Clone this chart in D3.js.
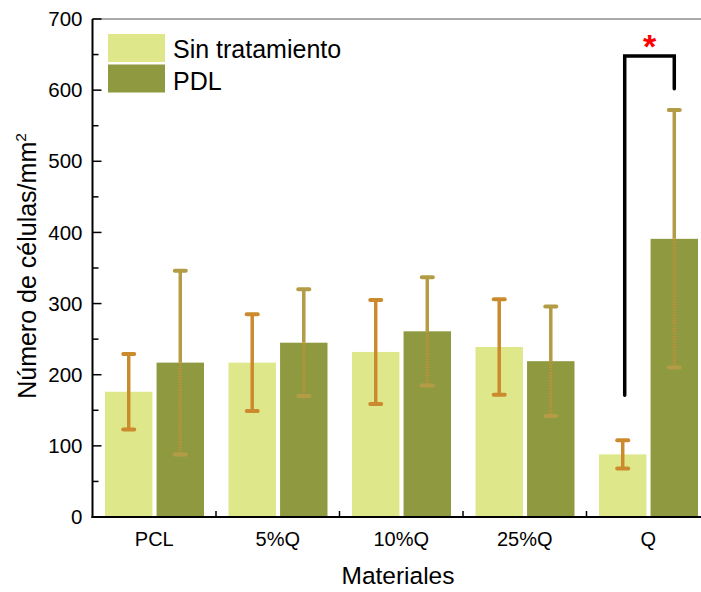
<!DOCTYPE html>
<html>
<head>
<meta charset="utf-8">
<script src="https://cdn.jsdelivr.net/npm/d3@7"></script>
<style>
  html, body { margin: 0; padding: 0; background: #fff; }
  svg { display: block; font-family: "Liberation Sans", Arial, sans-serif; }
</style>
</head>
<body>
<svg id="chart" width="701" height="592"></svg>
<script>
// Cell counts per material, with and without PDL treatment
const categories = ["PCL", "5%Q", "10%Q", "25%Q", "Q"];
const seriesNames = ["Sin tratamiento", "PDL"];
const sinTratamiento = [176, 217, 232, 239, 88];
const sinTratamientoSD = [53, 68, 73, 67, 20];
const pdl = [217, 245, 261, 219, 391];
const pdlSD = [129, 75, 76, 77, 181];
const yTicks = [0, 100, 200, 300, 400, 500, 600, 700];
const yMinorTicks = [50, 150, 250, 350, 450, 550, 650];
// significance bracket on Q: [left leg bottom, top, right leg bottom]
const sigCategory = "Q";
const sigLevels = [171, 648, 602];

const fills = ["#dfe78b", "#8f9a40"];
const errColors = ["#cc8a2e", "#b39c45"];

const svg = d3.select("#chart");
const plotLeft = 92.5, plotTop = 19, plotBottom = 517, plotRight = 710;

const x = d3.scaleBand().domain(categories).range([plotLeft, plotRight]).paddingInner(0).paddingOuter(0);
const xs = d3.scaleBand().domain(seriesNames).range([12.5, 111.5]).paddingInner(0.08);
const y = d3.scaleLinear().domain([0, 700]).range([plotBottom, plotTop]);

const series = [
  { name: seriesNames[0], values: sinTratamiento, sd: sinTratamientoSD, i: 0 },
  { name: seriesNames[1], values: pdl, sd: pdlSD, i: 1 }
];

// bars
series.forEach(s => {
  svg.append("g").selectAll("rect")
    .data(categories.map((c, k) => ({ c, v: s.values[k], sd: s.sd[k] })))
    .join("rect")
    .attr("x", d => x(d.c) + xs(s.name))
    .attr("y", d => y(d.v))
    .attr("width", xs.bandwidth())
    .attr("height", d => y(0) - y(d.v))
    .attr("fill", fills[s.i]);
});

// error bars (mean ± SD)
series.forEach(s => {
  const g = svg.append("g");
  categories.forEach((c, k) => {
    const cx = x(c) + xs(s.name) + xs.bandwidth() / 2;
    const v = s.values[k], sd = s.sd[k];
    if (s.i === 0) {
      g.append("line").attr("x1", cx).attr("x2", cx)
        .attr("y1", y(v + sd)).attr("y2", y(v - sd))
        .attr("stroke", errColors[0]).attr("stroke-width", 3.5);
    } else {
      g.append("line").attr("x1", cx).attr("x2", cx)
        .attr("y1", y(v + sd)).attr("y2", y(v))
        .attr("stroke", errColors[1]).attr("stroke-width", 3.5);
      g.append("line").attr("x1", cx).attr("x2", cx)
        .attr("y1", y(v)).attr("y2", y(v - sd))
        .attr("stroke", "#c0903a").attr("stroke-width", 3)
        .attr("stroke-dasharray", "1.5 1.2");
    }
    [v + sd, v - sd].forEach(t => {
      g.append("line").attr("x1", cx - 5.5).attr("x2", cx + 5.5)
        .attr("y1", y(t)).attr("y2", y(t))
        .attr("stroke", s.i === 0 ? errColors[0] : errColors[1])
        .attr("stroke-width", 4).attr("stroke-linecap", "round");
    });
  });
});

// frame top line
svg.append("line").attr("x1", plotLeft).attr("x2", 701).attr("y1", plotTop).attr("y2", plotTop)
  .attr("stroke", "#555").attr("stroke-width", 1.2);

// y axis
const yAxis = svg.append("g").attr("transform", `translate(${plotLeft},0)`);
yAxis.append("line").attr("x1", 0).attr("x2", 0).attr("y1", plotTop).attr("y2", plotBottom + 1)
  .attr("stroke", "#000").attr("stroke-width", 2);
yAxis.selectAll(".maj").data(yTicks).join("line")
  .attr("x1", 0).attr("x2", 9).attr("y1", d => y(d)).attr("y2", d => y(d))
  .attr("stroke", "#000").attr("stroke-width", 1.5);
yAxis.selectAll(".min").data(yMinorTicks).join("line")
  .attr("x1", 0).attr("x2", 6).attr("y1", d => y(d)).attr("y2", d => y(d))
  .attr("stroke", "#000").attr("stroke-width", 1.5);
yAxis.selectAll("text").data(yTicks).join("text")
  .attr("x", -10).attr("y", d => y(d)).attr("dy", "0.35em")
  .attr("text-anchor", "end").attr("font-size", 20.5).attr("fill", "#000")
  .text(d => d);

// x axis
const xAxis = svg.append("g");
xAxis.append("line").attr("x1", plotLeft - 1).attr("x2", 701).attr("y1", plotBottom).attr("y2", plotBottom)
  .attr("stroke", "#000").attr("stroke-width", 2);
xAxis.selectAll(".tk").data(categories.slice(1)).join("line")
  .attr("x1", d => x(d)).attr("x2", d => x(d)).attr("y1", plotBottom).attr("y2", plotBottom - 6)
  .attr("stroke", "#000").attr("stroke-width", 1.5);
xAxis.selectAll("text").data(categories).join("text")
  .attr("x", d => x(d) + x.bandwidth() / 2).attr("y", 546)
  .attr("text-anchor", "middle").attr("font-size", 20).attr("fill", "#000")
  .text(d => d);

// axis titles
svg.append("text").attr("x", 398).attr("y", 584).attr("text-anchor", "middle")
  .attr("font-size", 24.5).attr("fill", "#000").text("Materiales");
const yt = svg.append("text")
  .attr("transform", `translate(36,266) rotate(-90)`)
  .attr("text-anchor", "middle").attr("font-size", 25).attr("fill", "#000");
yt.append("tspan").text("Número de células/mm");
yt.append("tspan").attr("font-size", 15.5).attr("dy", -10).text("2");

// legend
const legend = svg.append("g");
seriesNames.forEach((n, i) => {
  legend.append("rect").attr("x", 108).attr("y", 34 + i * 30.5).attr("width", 57).attr("height", 28)
    .attr("fill", fills[i]);
  legend.append("text").attr("x", 173).attr("y", 58 + i * 32).attr("font-size", 25)
    .attr("fill", "#000").text(n);
});

// significance bracket
const bx0 = x(sigCategory) + xs(seriesNames[0]) + xs.bandwidth() / 2 + 2;
const bx1 = x(sigCategory) + xs(seriesNames[1]) + xs.bandwidth() / 2;
svg.append("path")
  .attr("d", `M${bx0},${y(sigLevels[0])}V${y(sigLevels[1])}H${bx1}V${y(sigLevels[2])}`)
  .attr("fill", "none").attr("stroke", "#000").attr("stroke-width", 3.5)
  .attr("stroke-linecap", "round").attr("stroke-linejoin", "miter");
svg.append("text").attr("x", (bx0 + bx1) / 2).attr("y", 58)
  .attr("text-anchor", "middle").attr("font-size", 34).attr("font-weight", "bold")
  .attr("fill", "#ff0000").text("*");
</script>
</body>
</html>
